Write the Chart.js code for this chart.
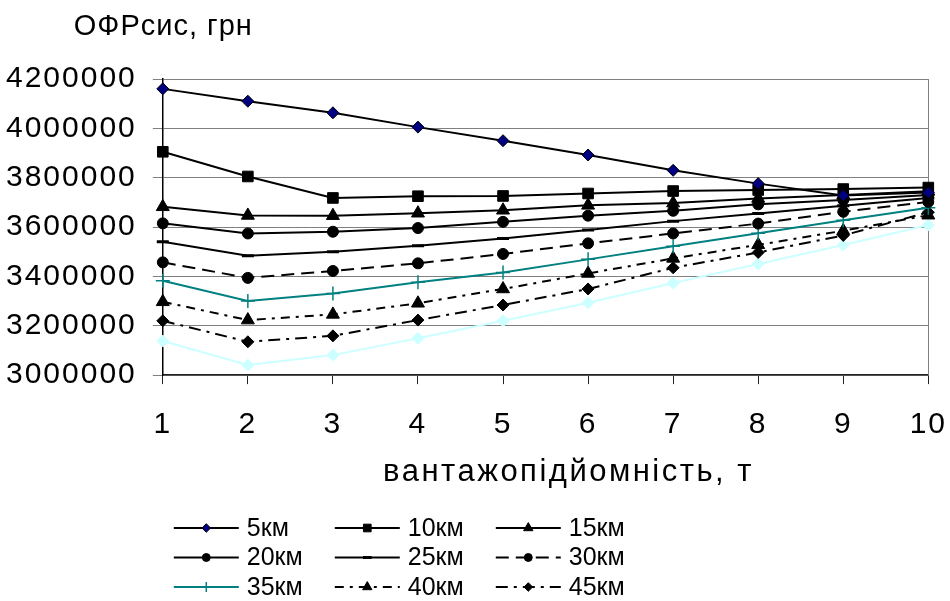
<!DOCTYPE html>
<html>
<head>
<meta charset="utf-8">
<script src="https://cdn.jsdelivr.net/npm/chart.js@4.4.0/dist/chart.umd.min.js"></script>
<style>
  html, body { margin: 0; padding: 0; background: #fff; }
  #ofr { display: block; }
</style>
</head>
<body>
<canvas id="ofr" width="950" height="601"></canvas>
<script>
// вантажопідйомність, т
var capacity = ["1", "2", "3", "4", "5", "6", "7", "8", "9", "10"];
var distances = ["5км", "10км", "15км", "20км", "25км", "30км", "35км", "40км", "45км", "50км"];

// ОФРсис, грн for each distance
var ofr5  = [4160000, 4110000, 4063000, 4005000, 3950000, 3892000, 3830000, 3776000, 3728000, 3740000];
var ofr10 = [3905000, 3805000, 3718000, 3725000, 3726000, 3736000, 3746000, 3750000, 3754000, 3760000];
var ofr15 = [3682000, 3647000, 3646000, 3656000, 3668000, 3688000, 3697000, 3716000, 3730000, 3745000];
var ofr20 = [3615000, 3574000, 3581000, 3596000, 3621000, 3646000, 3666000, 3692000, 3710000, 3730000];
var ofr25 = [3540000, 3484000, 3500000, 3524000, 3554000, 3588000, 3624000, 3655000, 3686000, 3718000];
var ofr30 = [3457000, 3394000, 3422000, 3453000, 3491000, 3534000, 3574000, 3614000, 3662000, 3702000];
var ofr35 = [3382000, 3300000, 3331000, 3376000, 3416000, 3469000, 3522000, 3575000, 3628000, 3678000];
var ofr40 = [3297000, 3223000, 3246000, 3291000, 3349000, 3412000, 3473000, 3528000, 3585000, 3648000];
var ofr45 = [3220000, 3135000, 3159000, 3223000, 3284000, 3349000, 3435000, 3497000, 3566000, 3660000];
var ofr50 = [3138000, 3041000, 3081000, 3149000, 3220000, 3293000, 3373000, 3450000, 3527000, 3608000];

var yMin = 3000000, yMax = 4200000, yStep = 200000;

var FONT = "'Liberation Sans', Arial, sans-serif";

function series(label, data, opts) {
	var ds = {
		label: label,
		data: data,
		borderColor: "#000",
		borderWidth: 2,
		backgroundColor: "#000",
		pointBackgroundColor: "#000",
		pointBorderColor: "#000",
		pointBorderWidth: 1,
		pointRadius: 5.5,
		pointHoverRadius: 5.5,
		tension: 0,
		fill: false
	};
	for (var k in opts) ds[k] = opts[k];
	return ds;
}

var datasets = [
	series(distances[0], ofr5, {pointStyle: "rectRot", pointBackgroundColor: "#000080", pointRadius: 6}),
	series(distances[1], ofr10, {pointStyle: "rect", pointRadius: 7.5}),
	series(distances[2], ofr15, {pointStyle: "triangle", pointRadius: 7.5}),
	series(distances[3], ofr20, {pointStyle: "circle", pointRadius: 5.5}),
	series(distances[4], ofr25, {pointStyle: "line", pointRadius: 6, pointBorderWidth: 3}),
	series(distances[5], ofr30, {pointStyle: "circle", pointRadius: 5.5, borderDash: [13, 7]}),
	series(distances[6], ofr35, {pointStyle: "cross", pointRadius: 7, borderColor: "#008080",
		pointBorderColor: "#008080", pointBackgroundColor: "#008080", pointBorderWidth: 1.5}),
	series(distances[7], ofr40, {pointStyle: "triangle", pointRadius: 7.5, borderDash: [9, 6, 3, 6]}),
	series(distances[8], ofr45, {pointStyle: "rectRot", pointRadius: 6, borderDash: [12, 6, 3, 6]}),
	series(distances[9], ofr50, {pointStyle: "rectRot", pointRadius: 6, borderColor: "#ccffff",
		pointBorderColor: "#ccffff", pointBackgroundColor: "#ccffff"})
];

// axis text is set a little wider than the plain font
var spacing = {
	id: "spacing",
	beforeLayout: function(chart) { chart.ctx.letterSpacing = "2px"; },
	beforeDraw: function(chart) { chart.ctx.letterSpacing = "2px"; }
};

// plot frame on the right side, like the old spreadsheet charts
var frame = {
	id: "frame",
	beforeDatasetsDraw: function(chart) {
		var a = chart.chartArea, ctx = chart.ctx;
		ctx.save();
		ctx.strokeStyle = "#808080";
		ctx.lineWidth = 1;
		ctx.beginPath();
		ctx.moveTo(Math.round(a.right) + 0.5, a.top);
		ctx.lineTo(Math.round(a.right) + 0.5, a.bottom);
		ctx.stroke();
		ctx.restore();
	}
};

// unit caption above the value axis and the axis name under the categories
var captions = {
	id: "captions",
	afterDraw: function(chart) {
		var ctx = chart.ctx, a = chart.chartArea;
		ctx.save();
		ctx.fillStyle = "#000";
		ctx.textBaseline = "middle";
		ctx.textAlign = "left";
		ctx.letterSpacing = "1px";
		ctx.font = "29px " + FONT;
		ctx.fillText("ОФРсис, грн", a.left - 89, 27);
		ctx.textAlign = "center";
		ctx.letterSpacing = "2.5px";
		ctx.font = "31px " + FONT;
		ctx.fillText("вантажопідйомність, т", (a.left + a.right) / 2 + 23, a.bottom + 97);
		ctx.restore();
	}
};

// three-column legend with a line sample and marker for each series
var legend3 = {
	id: "legend3",
	afterDraw: function(chart) {
		var ctx = chart.ctx;
		var x0 = chart.chartArea.left + 11;
		var colW = 161, rowH = 29.5, y0 = 528, lineW = 65;
		ctx.save();
		ctx.letterSpacing = "0px";
		for (var i = 0; i < 9; i++) {
			var ds = chart.data.datasets[i];
			var x = x0 + (i % 3) * colW;
			var y = y0 + Math.floor(i / 3) * rowH;
			ctx.strokeStyle = ds.borderColor;
			ctx.lineWidth = 2;
			ctx.setLineDash(ds.borderDash || []);
			ctx.beginPath();
			ctx.moveTo(x, y);
			ctx.lineTo(x + lineW, y);
			ctx.stroke();
			ctx.setLineDash([]);
			ctx.fillStyle = ds.pointBackgroundColor;
			ctx.strokeStyle = ds.pointBorderColor;
			ctx.lineWidth = ds.pointBorderWidth;
			Chart.helpers.drawPoint(ctx, {
				pointStyle: ds.pointStyle,
				radius: ds.pointRadius * 0.72,
				borderWidth: ds.pointBorderWidth,
				rotation: 0
			}, x + lineW / 2, y);
			ctx.fillStyle = "#000";
			ctx.font = "25px " + FONT;
			ctx.textBaseline = "middle";
			ctx.textAlign = "left";
			ctx.fillText(ds.label, x + lineW + 8, y + 1);
		}
		ctx.restore();
	}
};

new Chart("ofr", {
	type: "line",
	data: {
		labels: capacity,
		datasets: datasets
	},
	options: {
		responsive: false,
		animation: false,
		events: [],
		layout: {padding: {top: 79, left: -10, right: 0, bottom: 135}},
		plugins: {
			legend: {display: false},
			title: {display: false},
			tooltip: {enabled: false}
		},
		scales: {
			x: {
				type: "category",
				offset: false,
				border: {display: true, color: "#222", width: 1.5},
				grid: {drawOnChartArea: false, drawTicks: true, tickLength: 9, color: "#222"},
				ticks: {color: "#000", padding: 3, maxRotation: 0,
					font: {family: FONT, size: 30, lineHeight: 2.53}}
			},
			y: {
				min: yMin,
				max: yMax,
				border: {display: true, color: "#000", width: 1.5},
				grid: {color: "#808080", lineWidth: 1, tickLength: 10},
				ticks: {
					stepSize: yStep,
					color: "#000",
					padding: 16,
					font: {family: FONT, size: 30},
					callback: function(v) { return String(v); }
				}
			}
		}
	},
	plugins: [spacing, frame, captions, legend3]
});
</script>
</body>
</html>
